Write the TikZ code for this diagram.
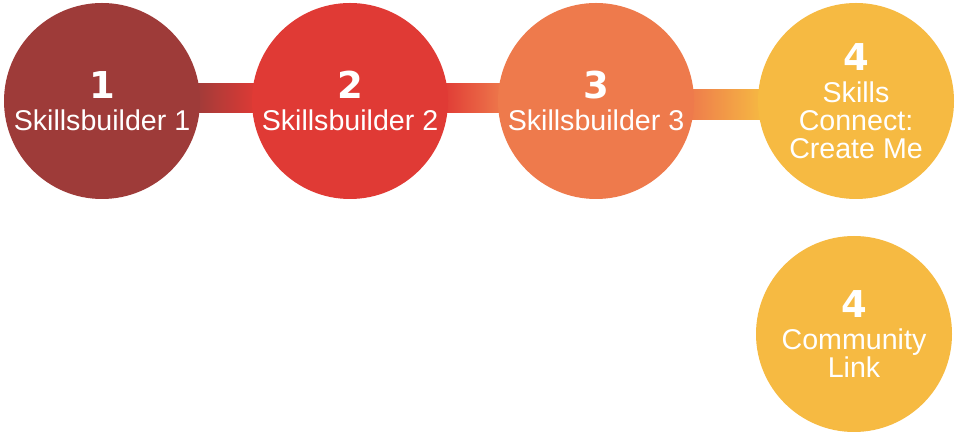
\documentclass[tikz,border=0pt]{standalone}
\usepackage{fontspec}
\setmainfont{Liberation Sans}
\newfontfamily\numfont{DejaVu Sans}
\usetikzlibrary{backgrounds}
\definecolor{stepone}{HTML}{9E3B39}
\definecolor{steptwo}{HTML}{E03A35}
\definecolor{stepthree}{HTML}{EE7A4C}
\definecolor{stepfour}{HTML}{F6BA42}
\newcommand{\stagenum}[1]{{\numfont\bfseries\fontsize{37}{37}\selectfont #1}\\[4pt]}

\begin{document}
\begin{tikzpicture}[x=1pt,y=1pt,
  stage/.style={circle,fill=#1,minimum size=196pt,inner sep=0pt,text=white,
    align=center,font=\fontsize{28.6}{28}\selectfont}]
  \path[use as bounding box] (0,0) rectangle (956,433);
  % pathway circles
  \node[stage=stepone]   (s1) at (102,332) {\stagenum{1}Skillsbuilder 1};
  \node[stage=steptwo]   (s2) at (350,332) {\stagenum{2}Skillsbuilder 2};
  \node[stage=stepthree] (s3) at (596,332) {\stagenum{3}Skillsbuilder 3};
  \node[stage=stepfour]  (s4) at (856,332) {\stagenum{4}Skills\\Connect:\\Create Me};
  \node[stage=stepfour]  (s5) at (854,99)  {\stagenum{4}Community\\Link};

  % gradient links behind the circles
  \begin{scope}[on background layer]
    \shade[left color=stepone,right color=steptwo]
      ([xshift=-6pt,yshift=17pt]s1.east) rectangle ([xshift=6pt,yshift=-12pt]s2.west);
    \shade[left color=steptwo,right color=stepthree]
      ([xshift=-6pt,yshift=17pt]s2.east) rectangle ([xshift=6pt,yshift=-12pt]s3.west);
    \shade[left color=stepthree,right color=stepfour]
      ([xshift=-6pt,yshift=11pt]s3.east) rectangle ([xshift=6pt,yshift=-19pt]s4.west);
  \end{scope}
\end{tikzpicture}
\end{document}
